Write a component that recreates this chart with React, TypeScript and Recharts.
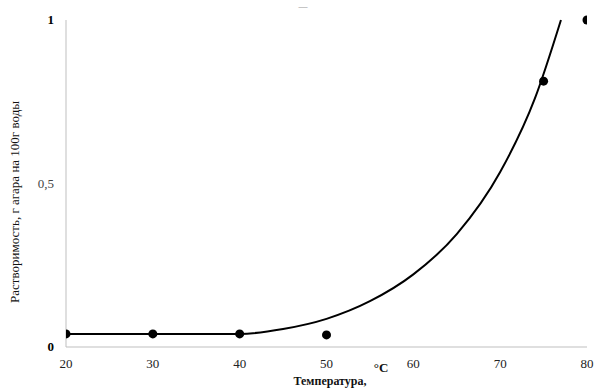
import { ComposedChart, Line, Scatter, XAxis, YAxis } from 'recharts';

// measured points
const tempPoints = [20, 30, 40, 50, 75, 80];
const solubility = [0.04, 0.04, 0.04, 0.037, 0.813, 1.0];

// trend curve
const curveTemps = [20, 30, 40, 45, 50, 55, 60, 65, 70, 74, 77];
const curveValues = [0.04, 0.04, 0.04, 0.055, 0.086, 0.14, 0.222, 0.345, 0.535, 0.76, 1.0];

const xTicks = [20, 30, 40, 50, 60, 70, 80];
const yTicks = [0, 0.5, 1];

const pointData = tempPoints.map((t, i) => ({ t, v: solubility[i] }));
const curveData = curveTemps.map((t, i) => ({ t, v: curveValues[i] }));

const font = "'Liberation Serif', 'DejaVu Serif', serif";

function YTick({ x, y, payload }: any) {
  const v = payload.value;
  const bold = v === 0 || v === 1;
  return (
    <text
      x={x - 4}
      y={y}
      dy={4}
      textAnchor="end"
      fontFamily={font}
      fontSize={13}
      fontWeight={bold ? 'bold' : 'normal'}
      fill={bold ? '#000' : '#444'}
    >
      {String(v).replace('.', ',')}
    </text>
  );
}

export default function App() {
  return (
    <div style={{ position: 'absolute', left: 0, top: 0, width: 596, height: 390, background: '#fff' }}>
      <ComposedChart width={596} height={390} margin={{ top: 20, right: 9, bottom: 0, left: 0 }}>
        <XAxis
          dataKey="t"
          type="number"
          domain={[20, 80]}
          ticks={xTicks}
          allowDataOverflow
          stroke="#bfbfbf"
          tickLine={false}
          tick={{ fontSize: 13, fill: '#222', fontFamily: font }}
          tickMargin={6}
          height={43}
          label={{
            content: () => (
              <g fontFamily={font} fontWeight="bold" fill="#111">
                <text x={330} y={385} textAnchor="middle" fontSize={12}>Температура,</text>
                <text x={381} y={372} textAnchor="middle" fontSize={13}>°C</text>
              </g>
            ),
          }}
        />
        <YAxis
          dataKey="v"
          type="number"
          domain={[0, 1]}
          ticks={yTicks}
          stroke="#bfbfbf"
          tickLine={false}
          tick={<YTick />}
          width={66}
          label={{
            content: () => (
              <text
                x={19}
                y={202}
                transform="rotate(-90 19 202)"
                textAnchor="middle"
                fontFamily={font}
                fontSize={13}
                fill="#111"
              >
                Растворимость, г агара на 100г воды
              </text>
            ),
          }}
        />
        <Line
          data={curveData}
          dataKey="v"
          type="monotone"
          stroke="#000"
          strokeWidth={2}
          dot={false}
          activeDot={false}
          isAnimationActive={false}
        />
        <Scatter data={pointData} dataKey="v" fill="#000" shape="circle" isAnimationActive={false} />
        <text x={303} y={9} textAnchor="middle" fontSize={9} fill="#999" fontFamily={font}>—</text>
      </ComposedChart>
    </div>
  );
}
